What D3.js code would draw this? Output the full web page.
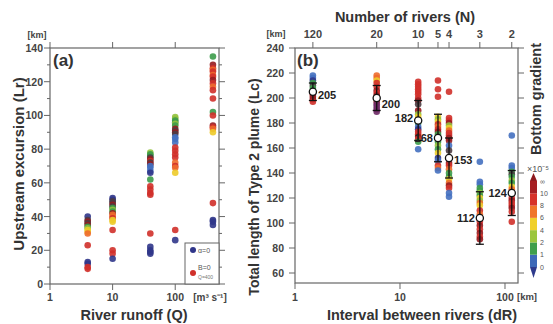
<!DOCTYPE html>
<html>
<head>
<meta charset="utf-8">
<script src="https://cdn.jsdelivr.net/npm/d3@7"></script>
<style>
  body { margin: 0; background: #fff; }
  svg { display: block; font-family: "Liberation Sans", Arial, sans-serif; }
  .tick-lbl { font-size: 10.5px; fill: #444; font-weight: bold; }
  .title { font-size: 15px; font-weight: bold; fill: #333; }
</style>
</head>
<body>
<div id="chart"></div>
<script>
// ---- data ----
// colour codes for the bottom gradient classes
const palette = {
  n: "#30368a", b: "#4470c0", g: "#3c9b4a", l: "#93c23e", y: "#edcb2a",
  o: "#ee6b2c", r: "#d0302a", d: "#961c20", k: "#4d3c42", p: "#6e2a66"
};

// panel (a): river runoff vs upstream excursion
const runoffQ = [4, 10, 40, 100, 400];
const excursion = [
  [[40,"n"],[38,"k"],[37,"d"],[36,"k"],[35,"d"],[34,"g"],[33,"l"],[32,"y"],[31,"y"],[30,"o"],[23,"r"],[13,"n"],[12,"n"],[10,"r"],[9,"r"]],
  [[51,"n"],[50,"n"],[49,"k"],[48,"k"],[47,"d"],[46,"k"],[45,"g"],[44,"l"],[43,"g"],[42,"d"],[41,"o"],[40,"o"],[39,"r"],[38,"y"],[37,"y"],[32,"r"],[20,"r"],[18,"r"],[15,"n"]],
  [[78,"l"],[77,"g"],[76,"g"],[75,"k"],[74,"d"],[73,"r"],[72,"k"],[71,"d"],[70,"b"],[69,"b"],[67,"b"],[66,"n"],[62,"g"],[58,"r"],[56,"r"],[54,"r"],[53,"r"],[30,"r"],[22,"n"],[20,"n"],[19,"n"],[18,"n"]],
  [[99,"l"],[98,"l"],[97,"g"],[96,"g"],[95,"l"],[94,"g"],[92,"d"],[91,"k"],[90,"d"],[89,"k"],[87,"b"],[86,"b"],[84,"b"],[81,"r"],[79,"r"],[77,"r"],[75,"r"],[72,"o"],[70,"r"],[69,"o"],[66,"y"],[32,"r"],[26,"n"]],
  [[135,"g"],[130,"d"],[128,"r"],[127,"o"],[126,"r"],[124,"o"],[123,"r"],[121,"d"],[119,"r"],[117,"o"],[115,"r"],[110,"r"],[102,"g"],[100,"r"],[94,"d"],[93,"r"],[92,"o"],[90,"y"],[48,"r"],[38,"n"],[37,"n"],[35,"n"]]
];
const runoffTicks = [1, 10, 100];
const excursionTicks = [0, 20, 40, 60, 80, 100, 120, 140];

// panel (b): interval between rivers vs total plume length
const riverCount = [120, 20, 10, 5, 4, 3, 2];
const intervalDR = [1.48, 6.0, 14.9, 23, 29.3, 57.6, 116];
const plumeLength = [
  [[218,"b"],[216,"b"],[214,"n"],[212,"g"],[210,"k"],[208,"g"],[203,"r"],[201,"d"],[199,"d"],[197,"r"]],
  [[218,"o"],[216,"o"],[214,"y"],[212,"r"],[209,"r"],[206,"d"],[204,"r"],[202,"d"],[197,"d"],[195,"p"],[193,"p"],[191,"p"],[189,"p"]],
  [[213,"r"],[211,"r"],[209,"r"],[207,"r"],[205,"r"],[203,"r"],[200,"r"],[198,"d"],[195,"k"],[190,"d"],[187,"l"],[185,"y"],[180,"g"],[177,"b"],[175,"n"],[173,"r"],[171,"r"],[169,"d"],[167,"r"],[165,"g"],[159,"b"]],
  [[214,"r"],[207,"r"],[201,"r"],[185,"y"],[183,"l"],[181,"y"],[179,"r"],[177,"o"],[175,"r"],[173,"d"],[171,"g"],[165,"g"],[162,"l"],[159,"g"],[156,"y"],[152,"n"],[150,"b"],[146,"r"],[144,"o"],[142,"b"]],
  [[205,"r"],[184,"r"],[182,"r"],[180,"d"],[178,"l"],[176,"y"],[174,"o"],[172,"r"],[170,"r"],[168,"d"],[166,"d"],[162,"b"],[158,"k"],[148,"d"],[146,"r"],[143,"o"],[140,"g"],[137,"g"],[135,"y"],[132,"o"],[130,"d"],[128,"r"],[124,"b"],[121,"b"]],
  [[149,"b"],[133,"b"],[131,"b"],[128,"g"],[126,"g"],[124,"l"],[122,"g"],[120,"y"],[118,"l"],[116,"o"],[114,"y"],[110,"r"],[107,"o"],[101,"r"],[98,"d"],[95,"r"],[92,"d"],[89,"r"],[87,"d"]],
  [[170,"b"],[146,"b"],[144,"b"],[141,"g"],[139,"k"],[137,"g"],[134,"l"],[132,"g"],[129,"y"],[127,"o"],[120,"r"],[118,"d"],[116,"r"],[114,"r"],[112,"d"],[109,"r"],[101,"r"]]
];
const meanLength = [205, 200, 182, 168, 152, 104, 124];
const meanLabels = ["205", "200", "182", "168", "153", "112", "124"];
const meanError = [7, 10, 16, 19, 16, 21, 18];
const intervalTicks = [1, 10, 100];
const lengthTicks = [60, 80, 100, 120, 140, 160, 180, 200, 220, 240];

// colour bar
const gradientLabels = ["0", "1", "2", "4", "6", "8", "10", "\u221e"];
const gradientColors = ["#3d69b8", "#3f9e4c", "#9cc63e", "#f0d02a", "#f0762a", "#d6322a", "#a51e22"];

// ---- drawing ----
const W = 553, H = 324;
const svg = d3.select("#chart").append("svg")
  .attr("width", W).attr("height", H)
  .attr("viewBox", `0 0 ${W} ${H}`);

const axisColor = "#666";

function frame(x0, y0, x1, y1) {
  svg.append("rect")
    .attr("x", x0).attr("y", y0)
    .attr("width", x1 - x0).attr("height", y1 - y0)
    .attr("fill", "none").attr("stroke", axisColor).attr("stroke-width", 1.2);
}

function vTicks(x, dir, scale, major, minor) {
  minor.forEach(v => svg.append("line")
    .attr("x1", x).attr("x2", x + dir * 3)
    .attr("y1", scale(v)).attr("y2", scale(v))
    .attr("stroke", axisColor));
  major.forEach(v => svg.append("line")
    .attr("x1", x).attr("x2", x + dir * 6)
    .attr("y1", scale(v)).attr("y2", scale(v))
    .attr("stroke", axisColor));
}

function hTicks(y, dir, scale, vals) {
  vals.forEach(v => svg.append("line")
    .attr("x1", scale(v)).attr("x2", scale(v))
    .attr("y1", y).attr("y2", y + dir * 6)
    .attr("stroke", axisColor));
}

function dots(cx, list, y) {
  list.forEach(([v, c]) => svg.append("circle")
    .attr("cx", cx).attr("cy", y(v)).attr("r", 3.3)
    .attr("fill", palette[c]).attr("fill-opacity", 0.9));
}

// panel (a)
const ax = d3.scaleLog().domain([1, 500]).range([50, 219]);
const ay = d3.scaleLinear().domain([0, 140]).range([284, 48]);

frame(50, 48, 219, 284);
vTicks(50, -1, ay, excursionTicks, d3.range(10, 140, 20));
vTicks(219, 1, ay, excursionTicks, d3.range(10, 140, 20));
hTicks(48, -1, ax, runoffTicks);
hTicks(284, 1, ax, runoffTicks);

excursionTicks.forEach(v => svg.append("text").attr("class", "tick-lbl")
  .attr("x", 43).attr("y", ay(v) + 4).attr("text-anchor", "end").text(v));
runoffTicks.forEach(v => svg.append("text").attr("class", "tick-lbl")
  .attr("x", ax(v)).attr("y", 301).attr("text-anchor", "middle").text(v));
svg.append("text").attr("class", "tick-lbl").attr("x", 37).attr("y", 38)
  .attr("text-anchor", "middle").style("font-size", "9px").text("[km]");
svg.append("text").attr("class", "tick-lbl").attr("x", 210).attr("y", 301)
  .attr("text-anchor", "middle").style("font-size", "10px").text("[m\u00b3 s\u207b\u00b9]");
svg.append("text").attr("x", 53).attr("y", 66).style("font-size", "17px")
  .style("font-weight", "bold").attr("fill", "#333").text("(a)");

runoffQ.forEach((q, i) => dots(ax(q), excursion[i], ay));

// legend
svg.append("rect").attr("x", 185).attr("y", 243).attr("width", 34).attr("height", 41)
  .attr("fill", "#fff").attr("stroke", axisColor);
svg.append("circle").attr("cx", 193).attr("cy", 250).attr("r", 3).attr("fill", palette.n);
svg.append("text").attr("x", 198).attr("y", 252.5).style("font-size", "7px").attr("fill", "#555").text("\u03b1=0");
svg.append("circle").attr("cx", 193).attr("cy", 273).attr("r", 3).attr("fill", palette.r);
svg.append("text").attr("x", 198).attr("y", 270).style("font-size", "7px").attr("fill", "#555").text("B=0");
svg.append("text").attr("x", 198).attr("y", 279).style("font-size", "5px").attr("fill", "#777").text("Q=400");

svg.append("text").attr("class", "title")
  .attr("transform", "translate(24,164) rotate(-90)")
  .attr("text-anchor", "middle").text("Upstream excursion (Lr)");
svg.append("text").attr("class", "title").style("font-size", "14.5px")
  .attr("x", 134).attr("y", 320).attr("text-anchor", "middle").text("River runoff (Q)");

// panel (b)
const bx = d3.scaleLog().domain([1, 133]).range([295, 518]);
const by = d3.scaleLinear().domain([52, 240]).range([283, 48]);

frame(295, 48, 518, 283);
vTicks(295, -1, by, lengthTicks, []);
vTicks(518, 1, by, lengthTicks, []);
hTicks(283, 1, bx, intervalTicks);
hTicks(48, -1, bx, intervalDR);

lengthTicks.forEach(v => svg.append("text").attr("class", "tick-lbl")
  .attr("x", 284).attr("y", by(v) + 4).attr("text-anchor", "end").text(v));
intervalTicks.forEach(v => svg.append("text").attr("class", "tick-lbl")
  .attr("x", bx(v)).attr("y", 301).attr("text-anchor", "middle").text(v));
riverCount.forEach((n, i) => svg.append("text").attr("class", "tick-lbl")
  .attr("x", bx(intervalDR[i])).attr("y", 38).attr("text-anchor", "middle")
  .style("font-size", "11px").text(n));
svg.append("text").attr("class", "tick-lbl").attr("x", 276).attr("y", 37)
  .attr("text-anchor", "middle").style("font-size", "9px").text("[km]");
svg.append("text").attr("class", "tick-lbl").attr("x", 527).attr("y", 300)
  .attr("text-anchor", "middle").style("font-size", "9.5px").text("[km]");
svg.append("text").attr("x", 297).attr("y", 66).style("font-size", "17px")
  .style("font-weight", "bold").attr("fill", "#333").text("(b)");

intervalDR.forEach((d, i) => dots(bx(d), plumeLength[i], by));

// error bars and means
const labelSide = [1, 1, -1, -1, 1, -1, -1];
const labelDy = [3, 6, -3, 0, 2, 0, 0];
intervalDR.forEach((d, i) => {
  const cx = bx(d), m = meanLength[i], e = meanError[i];
  const g = svg.append("g").attr("stroke", "#111").attr("stroke-width", 1.3);
  g.append("line").attr("x1", cx).attr("x2", cx).attr("y1", by(m + e)).attr("y2", by(m - e));
  [m + e, m - e].forEach(v => g.append("line")
    .attr("x1", cx - 4).attr("x2", cx + 4).attr("y1", by(v)).attr("y2", by(v)));
  svg.append("circle").attr("cx", cx).attr("cy", by(m)).attr("r", 3.6)
    .attr("fill", "#fff").attr("stroke", "#111").attr("stroke-width", 1.3);
  svg.append("text")
    .attr("x", cx + labelSide[i] * 5).attr("y", by(m) + 4 + labelDy[i])
    .attr("text-anchor", labelSide[i] > 0 ? "start" : "end")
    .style("font-size", "11px").style("font-weight", "bold").attr("fill", "#222")
    .text(meanLabels[i]);
});

// colour bar
const cy = d3.scalePoint().domain(gradientLabels).range([267, 181]);
const cbx = 530, cbw = 7;
gradientColors.forEach((c, i) => svg.append("rect")
  .attr("x", cbx).attr("width", cbw)
  .attr("y", cy(gradientLabels[i + 1])).attr("height", cy(gradientLabels[i]) - cy(gradientLabels[i + 1]))
  .attr("fill", c));
svg.append("path").attr("d", `M${cbx},${cy("0")} L${cbx + cbw},${cy("0")} L${cbx + cbw / 2},${cy("0") + 11}Z`)
  .attr("fill", "#2e3a8c");
svg.append("path").attr("d", `M${cbx},${cy("\u221e")} L${cbx + cbw},${cy("\u221e")} L${cbx + cbw / 2},${cy("\u221e") - 8}Z`)
  .attr("fill", "#8e1a1e");
gradientLabels.forEach(l => svg.append("text")
  .attr("x", 540).attr("y", cy(l) + 2.5).style("font-size", "7px").attr("fill", "#555").text(l));
svg.append("text").attr("x", 527).attr("y", 172).style("font-size", "9px").attr("fill", "#555")
  .text("\u00d710\u207b\u2075");

svg.append("text").attr("class", "title").style("font-size", "14px")
  .attr("transform", "translate(259,187) rotate(-90)")
  .attr("text-anchor", "middle").text("Total length of Type 2 plume (Lc)");
svg.append("text").attr("class", "title").style("font-size", "14.5px")
  .attr("x", 422).attr("y", 320).attr("text-anchor", "middle").text("Interval between rivers (dR)");
svg.append("text").attr("class", "title").style("font-size", "14.5px")
  .attr("x", 405).attr("y", 22).attr("text-anchor", "middle").text("Number of rivers (N)");
svg.append("text").attr("class", "title").style("font-size", "14.5px")
  .attr("transform", "translate(541,99) rotate(-90)")
  .attr("text-anchor", "middle").text("Bottom gradient");
</script>
</body>
</html>
